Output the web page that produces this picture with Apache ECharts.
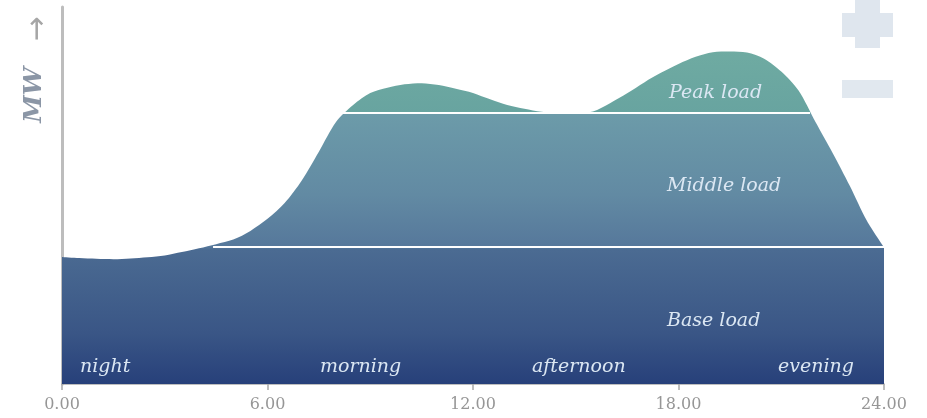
<!DOCTYPE html>
<html>
<head>
<meta charset="utf-8">
<script src="https://cdn.jsdelivr.net/npm/echarts@6/dist/echarts.min.js"></script>
<style>
  html, body { margin: 0; padding: 0; background: #ffffff; }
  #chart { width: 927px; height: 418px; }
</style>
</head>
<body>
<div id="chart"></div>
<script>
// Daily electricity demand profile, sampled every half hour (load in relative MW units)
const hours = [0, 0.5, 1, 1.5, 2, 2.5, 3, 3.5, 4, 4.5, 5, 5.5, 6, 6.5, 7, 7.5, 8, 8.5, 9, 9.5,
  10, 10.5, 11, 11.5, 12, 12.5, 13, 13.5, 14, 14.5, 15, 15.5, 16, 16.5, 17, 17.5, 18, 18.5,
  19, 19.5, 20, 20.5, 21, 21.5, 22, 22.5, 23, 23.5, 24];
const loadMW = [33.7, 33.4, 33.2, 33.1, 33.3, 33.6, 34.1, 35.0, 36.0, 37.1, 38.3, 40.6, 43.8, 48.0,
  54.0, 61.6, 69.5, 74.0, 77.2, 78.6, 79.5, 79.8, 79.3, 78.3, 77.2, 75.5, 74.0, 73.0, 72.2, 71.8,
  71.9, 72.3, 74.5, 77.1, 80.0, 82.6, 84.9, 86.8, 88.0, 88.2, 87.9, 86.3, 82.9, 77.9, 69.5, 61.3,
  52.6, 43.3, 36.3];

// Load band boundaries
const baseLevel = 36.3;     // top of base load
const middleLevel = 71.9;   // top of middle load
const baseLineFrom = 4.41;  // where demand first exceeds base load
const peakLineFrom = 8.2;   // where demand first exceeds middle load
const peakLineTo = 21.84;   // where demand drops back below middle load

// Axis ticks
const tickHours = [0, 6, 12, 18, 24];
const tickLabels = ['0.00', '6.00', '12.00', '18.00', '24.00'];

// Text annotations
const bandNames = ['Peak load', 'Middle load', 'Base load'];
const dayParts = ['night', 'morning', 'afternoon', 'evening'];

const chart = echarts.init(document.getElementById('chart'), null, { renderer: 'canvas' });

const labelColor = '#dbe7f3';
const serif = '"DejaVu Serif", serif';

function bandText(text, x, y) {
  return {
    type: 'text', left: x, top: y, silent: true, z: 100,
    style: { text: text, fill: labelColor, font: 'italic 19px ' + serif }
  };
}

const option = {
  animation: false,
  backgroundColor: '#ffffff',
  grid: { left: 62, right: 43, top: 7, bottom: 34, containLabel: false },
  xAxis: {
    type: 'value', min: 0, max: 24, interval: 6,
    axisLine: { show: true, onZero: false, lineStyle: { color: '#a9a9a9', width: 1.5 } },
    axisTick: { show: true, length: 6, inside: false, lineStyle: { color: '#a9a9a9', width: 1.5 } },
    axisLabel: {
      show: true, margin: 13, color: '#969696', fontFamily: 'DejaVu Serif', fontSize: 16,
      formatter: function (v) { const i = tickHours.indexOf(v); return i >= 0 ? tickLabels[i] : ''; }
    },
    splitLine: { show: false }
  },
  yAxis: {
    type: 'value', min: 0, max: 100,
    axisLine: { show: true, lineStyle: { color: '#bdbdbd', width: 3 } },
    axisTick: { show: false },
    axisLabel: { show: false },
    splitLine: { show: false }
  },
  series: [{
    name: 'Load',
    type: 'line',
    data: hours.map((h, i) => [h, loadMW[i]]),
    smooth: 0.3,
    symbol: 'none',
    lineStyle: { width: 0 },
    areaStyle: {
      opacity: 1,
      color: {
        type: 'linear', x: 0, y: 40, x2: 0, y2: 384, global: true,
        colorStops: [
          { offset: 0, color: '#70aca2' },
          { offset: 0.21, color: '#68a4a0' },
          { offset: 0.215, color: '#6c9ba9' },
          { offset: 0.45, color: '#628aa3' },
          { offset: 0.6, color: '#56789b' },
          { offset: 0.61, color: '#4b6b92' },
          { offset: 0.85, color: '#3a5686' },
          { offset: 1, color: '#27407a' }
        ]
      }
    },
    markLine: {
      silent: true,
      symbol: ['none', 'none'],
      label: { show: false },
      lineStyle: { color: '#ffffff', width: 2, type: 'solid' },
      data: [
        [{ coord: [baseLineFrom, baseLevel] }, { coord: [24, baseLevel] }],
        [{ coord: [peakLineFrom, middleLevel] }, { coord: [peakLineTo, middleLevel] }]
      ]
    }
  }],
  graphic: [
    // Axis name: MW with an upward arrow
    {
      type: 'text', x: 34, y: 95, rotation: Math.PI / 2, silent: true, z: 100,
      style: { text: 'MW', fill: '#8b96a6', font: 'italic bold 25px ' + serif, align: 'center', verticalAlign: 'middle' }
    },
    {
      type: 'text', x: 38, y: 29, rotation: Math.PI / 2, silent: true, z: 100,
      style: { text: '\u2192', fill: '#a6a6a6', font: '30px "DejaVu Sans", sans-serif', align: 'center', verticalAlign: 'middle' }
    },
    // Zoom controls (plus / minus)
    { type: 'rect', silent: true, shape: { x: 855, y: 0, width: 25, height: 48 }, style: { fill: '#dfe6ee' } },
    { type: 'rect', silent: true, shape: { x: 842, y: 13, width: 51, height: 24 }, style: { fill: '#dfe6ee' } },
    { type: 'rect', silent: true, shape: { x: 842, y: 80, width: 51, height: 18 }, style: { fill: '#e1e8ef' } },
    // Load band names
    bandText(bandNames[0], 669, 84),
    bandText(bandNames[1], 667, 177),
    bandText(bandNames[2], 667, 312),
    // Parts of the day
    bandText(dayParts[0], 80, 358),
    bandText(dayParts[1], 320, 358),
    bandText(dayParts[2], 532, 358),
    bandText(dayParts[3], 778, 358)
  ]
};

chart.setOption(option);
</script>
</body>
</html>
